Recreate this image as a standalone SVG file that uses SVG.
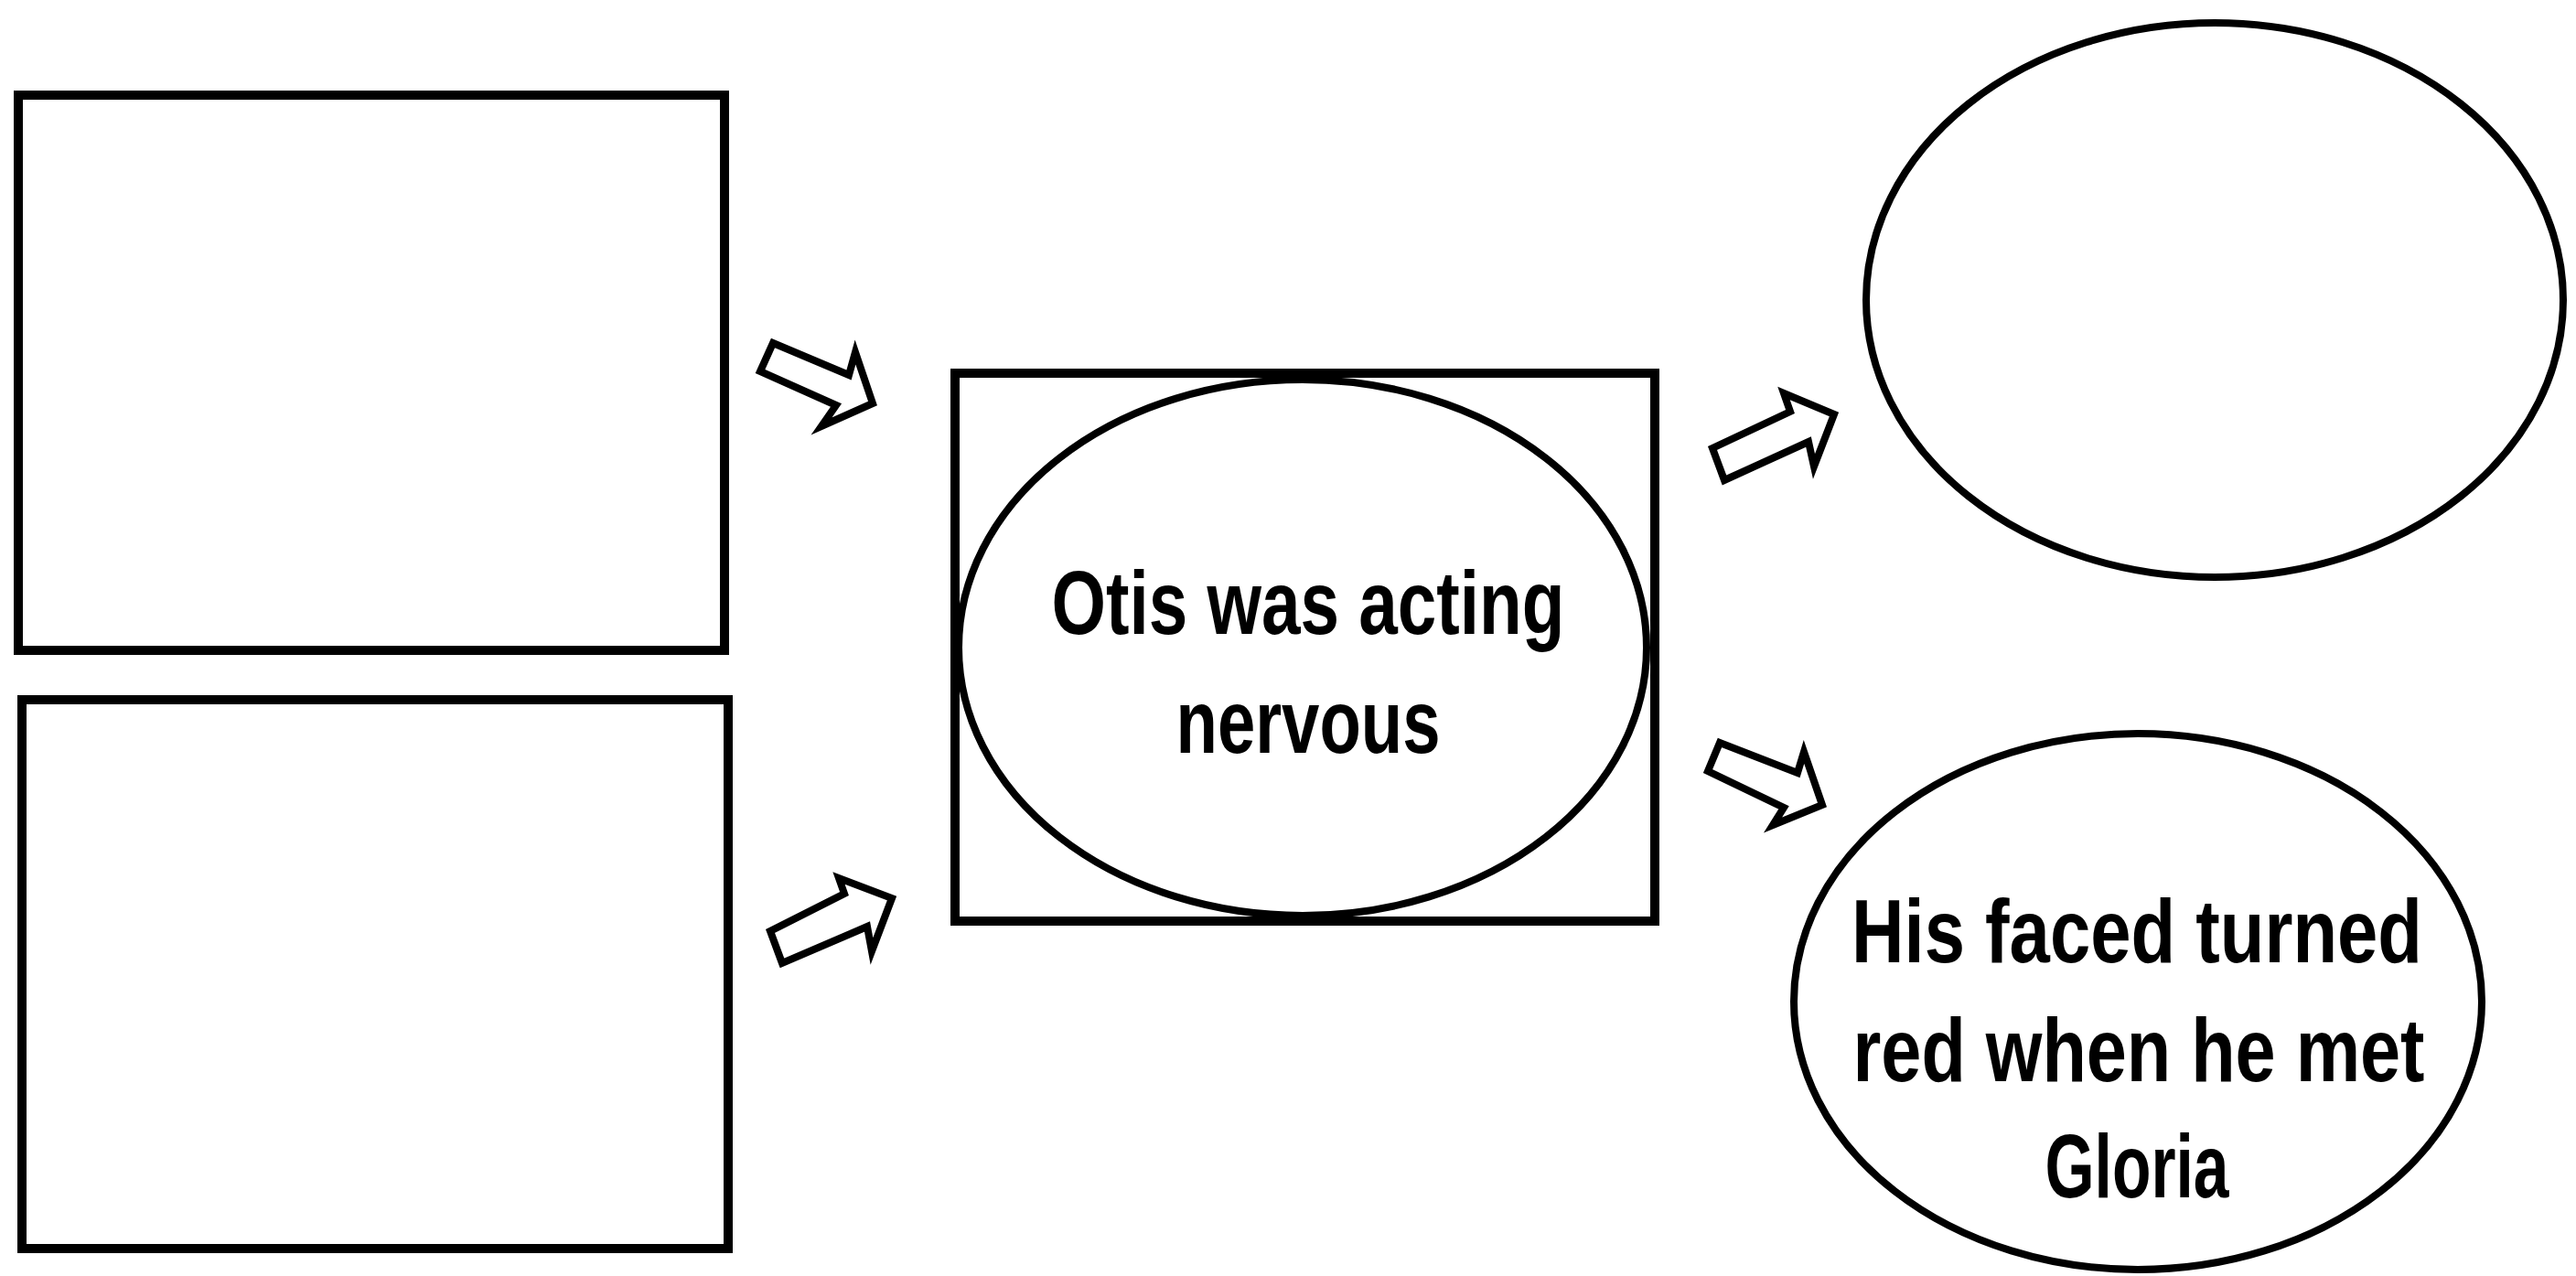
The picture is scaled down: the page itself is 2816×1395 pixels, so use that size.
<svg xmlns="http://www.w3.org/2000/svg" width="2816" height="1395" viewBox="0 0 2816 1395">
<style>
.box{fill:#fff;stroke:#000;stroke-width:10}
.ell{fill:#fff;stroke:#000;stroke-width:8}
.arr{fill:#fff;stroke:#000;stroke-width:8;stroke-linejoin:miter}
.t{font-family:"Liberation Sans",Arial,sans-serif;font-weight:bold;font-size:98px;fill:#000;text-anchor:middle}
</style>
<rect width="2816" height="1395" fill="#fff"/>
<g id="box-top-left"><rect class="box" x="20" y="104" width="772" height="607"/></g>
<g id="box-bottom-left"><rect class="box" x="24" y="765" width="772" height="600"/></g>
<g id="center">
<rect class="box" x="1044" y="408" width="765" height="599"/>
<ellipse class="ell" cx="1424" cy="708" rx="376" ry="293"/>
<text class="t" x="1430" y="693" textLength="561" lengthAdjust="spacingAndGlyphs">Otis was acting</text>
<text class="t" x="1430" y="823" textLength="289" lengthAdjust="spacingAndGlyphs">nervous</text>
</g>
<g id="ellipse-top-right"><ellipse class="ell" cx="2421" cy="328" rx="381" ry="303"/></g>
<g id="ellipse-bottom-right">
<ellipse class="ell" cx="2337" cy="1095" rx="376" ry="293"/>
<text class="t" x="2336" y="1052" textLength="624" lengthAdjust="spacingAndGlyphs">His faced turned</text>
<text class="t" x="2338" y="1182" textLength="625" lengthAdjust="spacingAndGlyphs">red when he met</text>
<text class="t" x="2336" y="1309" textLength="201" lengthAdjust="spacingAndGlyphs">Gloria</text>
</g>
<g id="connectors">
<polygon class="arr" points="845,375 928,410 935,385 954,441 898,466 914,443 831,406"/>
<polygon class="arr" points="855,1053 842,1018 923,977 917,960 975,982 953,1040 948,1013"/>
<polygon class="arr" points="1885,525 1872,490 1957,450 1950,430 2005,453 1983,510 1977,483"/>
<polygon class="arr" points="1880,812 1965,845 1972,822 1992,880 1938,902 1950,883 1867,843"/>
</g>
</svg>
